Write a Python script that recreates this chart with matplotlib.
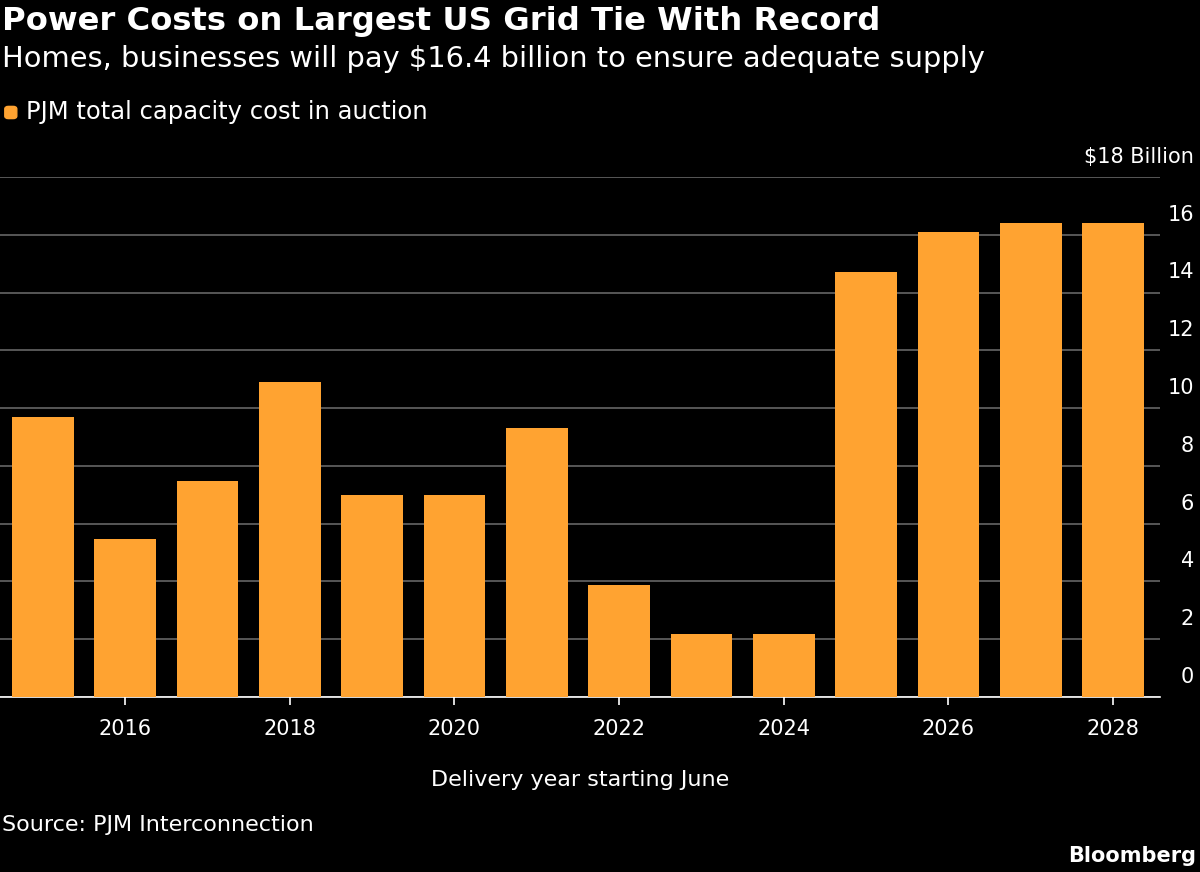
import matplotlib
matplotlib.use("Agg")
import matplotlib.pyplot as plt
from matplotlib.patches import FancyBboxPatch

years = [2015, 2016, 2017, 2018, 2019, 2020, 2021, 2022, 2023, 2024, 2025, 2026, 2027, 2028]
costs = [9.7, 5.47, 7.48, 10.91, 7.0, 7.0, 9.32, 3.88, 2.18, 2.18, 14.72, 16.1, 16.42, 16.4]
yticks = [0, 2, 4, 6, 8, 10, 12, 14, 16, 18]
ytick_labels = ["0", "2", "4", "6", "8", "10", "12", "14", "16", "$18 Billion"]
xticks = [2016, 2018, 2020, 2022, 2024, 2026, 2028]

bar_color = "#FFA331"
plt.rcParams['font.family'] = ['DejaVu Sans']
fig = plt.figure(figsize=(12, 8.72), dpi=100, facecolor="black")
ax = fig.add_axes([0, 175/872, 1160/1200, 520/872], facecolor="black")
ax.bar(years, costs, width=0.75, color=bar_color, zorder=3)
ax.set_xlim(2014.48, 2028.57)
ax.set_ylim(0, 18)
ax.set_yticks(yticks)
ax.set_yticklabels([])
for v, lab in zip(yticks, ytick_labels):
    ax.text(1.0295, v + 0.35, lab, transform=ax.get_yaxis_transform(), ha="right", va="bottom",
            color="white", fontsize=15)
ax.tick_params(axis="y", length=0)
ax.grid(axis="y", color="#666666", linewidth=1.2, zorder=0)
ax.set_xticks(xticks)
ax.set_xticklabels([str(x) for x in xticks], color="white", fontsize=15)
ax.tick_params(axis="x", colors="white", length=6, width=1.2, pad=10)
for s in ["top", "right", "left"]:
    ax.spines[s].set_visible(False)
ax.spines["bottom"].set_color("white")
ax.spines["bottom"].set_linewidth(1.2)
ax.set_xlabel("Delivery year starting June", color="white", fontsize=16, labelpad=22)

fig.text(0.002, 0.975, "Power Costs on Largest US Grid Tie With Record", color="white",
         fontsize=23.2, fontweight="bold", va="center", ha="left")
fig.text(0.002, 0.932, "Homes, businesses will pay $16.4 billion to ensure adequate supply",
         color="white", fontsize=20.8, va="center", ha="left")
fig.patches.append(FancyBboxPatch((0.004, 0.864), 0.010, 0.014, boxstyle="round,pad=0,rounding_size=0.003",
                                  transform=fig.transFigure, color=bar_color))
fig.text(0.022, 0.871, "PJM total capacity cost in auction", color="white", fontsize=17.5,
         va="center", ha="left")
fig.text(0.002, 0.054, "Source: PJM Interconnection", color="white", fontsize=16, va="center")
fig.text(0.997, 0.018, "Bloomberg", color="white", fontsize=15, fontweight="bold",
         va="center", ha="right")
fig.savefig("out.png", dpi=100, facecolor="black")
